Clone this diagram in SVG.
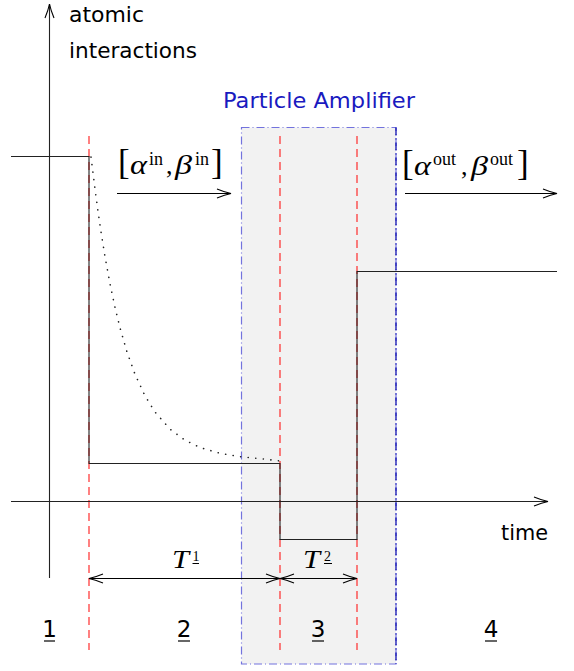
<svg xmlns="http://www.w3.org/2000/svg" width="574" height="671" viewBox="0 0 574 671">
<style>
.sans{font-family:"DejaVu Sans","Liberation Sans",sans-serif;fill:#000}
.math{font-family:"Liberation Serif","DejaVu Serif",serif;fill:#000}
.it{font-style:italic}
.ax{stroke:#222;stroke-width:1.1;fill:none}
.red{stroke:#ff1a1a;stroke-width:1.1;stroke-dasharray:8,5;fill:none}
.sig{stroke:#222;stroke-width:1.1;fill:none}
.arr{stroke:#000;stroke-width:1.1;fill:none}
.ul{stroke:#000;stroke-width:1.2}
.br{font-size:35px}
.gr{font-size:28px}
.cm{font-size:26px}
.sup{font-size:18px}
</style>
<defs>
<marker id="head" markerUnits="userSpaceOnUse" markerWidth="20" markerHeight="14" refX="0" refY="0" viewBox="-16 -7 20 14" orient="auto-start-reverse" overflow="visible">
<path d="M-14,-4.5 Q-6,-1.2 0,0 Q-6,1.2 -14,4.5" fill="none" stroke="#000" stroke-width="1.1"/>
</marker>
</defs>
<rect width="574" height="671" fill="#fff"/>
<g id="amplifier">
<rect x="241.5" y="127.5" width="154.5" height="536.5" fill="#f2f2f2" stroke="#7373dd" stroke-width="1.2" stroke-dasharray="8,3,1,3"/>
<line x1="396" y1="127.5" x2="396" y2="664" stroke="#0000aa" stroke-width="1.2" stroke-dasharray="8,3,1,3"/>
<text class="sans" x="223" y="108" font-size="22" textLength="192" lengthAdjust="spacingAndGlyphs" style="fill:#1a1abf">Particle Amplifier</text>
</g>
<g id="phase-lines">
<line class="red" x1="89" y1="136" x2="89" y2="650"/>
<line class="red" x1="280" y1="136" x2="280" y2="650"/>
<line class="red" x1="357" y1="136" x2="357" y2="650"/>
</g>
<g id="axes">
<line class="ax" x1="49.5" y1="578" x2="49.5" y2="4" marker-end="url(#head)"/>
<line class="ax" x1="11" y1="501.5" x2="548" y2="501.5" marker-end="url(#head)"/>
<text class="sans" x="69" y="22" font-size="21.5" textLength="75" lengthAdjust="spacingAndGlyphs">atomic</text>
<text class="sans" x="69" y="58" font-size="21.5" textLength="128" lengthAdjust="spacingAndGlyphs">interactions</text>
<text class="sans" x="501" y="540" font-size="21.5" textLength="47" lengthAdjust="spacingAndGlyphs">time</text>
</g>
<g id="signal">
<polyline class="sig" points="11,156.5 89,156.5 89,463.5 280,463.5 280,539.5 357,539.5 357,271.5 557,271.5"/>
<path d="M91,157 L93,172.9 L95,188.9 L98,211.3 L101,231.8 L105,256.6 L110,283.8 L115,307.4 L120,327.8 L127,352 L135,374.2 L145,395.8 L155,412 L170,429.1 L185,440.2 L200,447.5 L220,453.3 L240,456.7 L260,458.6 L280,461" fill="none" stroke="#222" stroke-width="1.6" stroke-linecap="round" stroke-dasharray="0.1,7.5"/>
</g>
<g id="connectors">
<line class="arr" x1="117" y1="193.5" x2="231" y2="193.5" marker-end="url(#head)"/>
<line class="arr" x1="405" y1="193.5" x2="557" y2="193.5" marker-end="url(#head)"/>
<line class="arr" x1="89" y1="578.5" x2="280" y2="578.5" marker-start="url(#head)" marker-end="url(#head)"/>
<line class="arr" x1="280" y1="578.5" x2="357" y2="578.5" marker-start="url(#head)" marker-end="url(#head)"/>
</g>
<g id="label-in">
<text class="math br" x="118" y="174">[</text>
<text class="math it gr" x="130" y="174" textLength="17" lengthAdjust="spacingAndGlyphs">α</text>
<text class="math sup" x="149" y="165">in</text>
<text class="math cm" x="166" y="174">,</text>
<text class="math it gr" x="175" y="174" textLength="17" lengthAdjust="spacingAndGlyphs">β</text>
<text class="math sup" x="195" y="165">in</text>
<text class="math br" x="211" y="174">]</text>
</g>
<g id="label-out">
<text class="math br" x="402" y="175">[</text>
<text class="math it gr" x="414" y="175" textLength="17" lengthAdjust="spacingAndGlyphs">α</text>
<text class="math sup" x="433" y="165">out</text>
<text class="math cm" x="461" y="175">,</text>
<text class="math it gr" x="471" y="175" textLength="17" lengthAdjust="spacingAndGlyphs">β</text>
<text class="math sup" x="490" y="165">out</text>
<text class="math br" x="517" y="175">]</text>
</g>
<g id="label-T1">
<text class="math it" x="172" y="568" font-size="25" textLength="17" lengthAdjust="spacingAndGlyphs">T</text>
<text class="math" x="192.5" y="561" font-size="14">1</text>
<line class="ul" x1="192.5" y1="563.5" x2="199" y2="563.5" style="stroke-width:1"/>
</g>
<g id="label-T2">
<text class="math it" x="303" y="568" font-size="25" textLength="17" lengthAdjust="spacingAndGlyphs">T</text>
<text class="math" x="324" y="561" font-size="14">2</text>
<line class="ul" x1="324" y1="563.5" x2="332" y2="563.5" style="stroke-width:1"/>
</g>
<g id="phase-numbers">
<text class="sans" x="49.5" y="637" font-size="23" text-anchor="middle">1</text>
<line class="ul" x1="44" y1="641" x2="55" y2="641"/>
<text class="sans" x="184" y="637" font-size="23" text-anchor="middle">2</text>
<line class="ul" x1="178" y1="641" x2="190" y2="641"/>
<text class="sans" x="318" y="637" font-size="23" text-anchor="middle">3</text>
<line class="ul" x1="312" y1="641" x2="324" y2="641"/>
<text class="sans" x="491" y="637" font-size="23" text-anchor="middle">4</text>
<line class="ul" x1="485" y1="641" x2="497" y2="641"/>
</g>
</svg>
